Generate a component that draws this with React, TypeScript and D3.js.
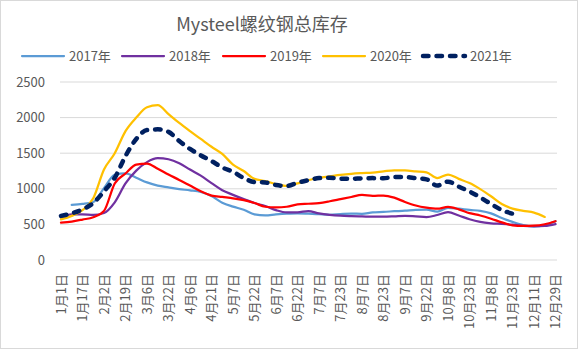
import React from "react";
import * as d3 from "d3";

const xLabels = ["1月1日","1月17日","2月2日","2月19日","3月6日","3月22日","4月6日","4月21日","5月7日","5月22日","6月7日","6月22日","7月7日","7月23日","8月7日","8月23日","9月7日","9月22日","10月8日","10月23日","11月8日","11月23日","12月11日","12月29日"];
const yTicks = [0, 500, 1000, 1500, 2000, 2500];

// values at half-label steps (47 points)
const s2017: (number | null)[] = [null,775,787,815,1010,1195,1215,1155,1090,1045,1020,996,978,955,898,805,750,705,640,627,640,650,655,650,643,635,645,652,648,670,676,685,693,705,708,678,733,720,703,690,655,590,535,490,470,490,545];
const s2018: (number | null)[] = [600,640,642,633,660,810,1075,1255,1375,1430,1415,1360,1270,1185,1080,980,915,855,800,758,700,668,668,688,655,635,623,617,613,608,608,613,620,612,602,632,672,625,572,535,516,507,496,481,477,480,505];
const s2019: (number | null)[] = [525,540,568,600,690,1075,1215,1340,1355,1282,1200,1125,1045,965,905,885,866,840,800,748,738,748,780,790,800,825,855,885,913,900,905,875,815,765,735,720,745,712,658,625,580,528,487,478,482,502,545];
const s2020: (number | null)[] = [570,620,700,866,1270,1500,1810,2000,2145,2175,2050,1925,1810,1700,1590,1490,1340,1250,1140,1110,1065,1040,1075,1120,1155,1175,1195,1210,1220,1228,1245,1260,1258,1245,1231,1150,1200,1140,1080,995,895,786,722,690,665,605,null];
const s2021: (number | null)[] = [620,655,710,800,965,1155,1460,1700,1825,1835,1800,1670,1560,1470,1390,1300,1240,1150,1095,1090,1053,1040,1085,1120,1150,1155,1142,1140,1147,1150,1148,1165,1165,1150,1133,1045,1100,1030,962,880,786,702,650,null,null,null,null];

const seriesNames = ["2017年", "2018年", "2019年", "2020年", "2021年"];
const seriesData = [s2017, s2018, s2019, s2020, s2021];
const colors = ["#5B9BD5", "#7030A0", "#FF0000", "#FFC000", "#002060"];

const W = 579, H = 351;
const FONT = "'Noto Sans CJK SC', 'Noto Sans', sans-serif";
const TXT = "#595959";

export default function App() {
  const x = d3.scaleLinear().domain([0, 46]).range([61, 555.5]);
  const y = d3.scaleLinear().domain([0, 2500]).range([260, 82]);
  const line = d3
    .line<number | null>()
    .defined((d) => d != null)
    .x((_, i) => x(i))
    .y((d) => y(d as number))
    .curve(d3.curveMonotoneX);

  const legendX = [22, 122, 223, 323, 423];

  return (
    <svg width={W} height={H} style={{ position: "absolute", left: 0, top: 0, background: "#fff" }} fontFamily={FONT}>
      <rect x={0.5} y={0.5} width={W - 2} height={H - 3} fill="#fff" stroke="#d9d9d9" />
      <text x={262} y={31} textAnchor="middle" fontSize={18} fill={TXT}>Mysteel螺纹钢总库存</text>
      {seriesNames.map((n, i) => (
        <g key={n}>
          <line
            x1={legendX[i]} x2={legendX[i] + 42} y1={56} y2={56}
            stroke={colors[i]} strokeWidth={i === 4 ? 4.5 : 2.25}
            strokeDasharray={i === 4 ? "5.5 8" : undefined}
            strokeLinecap="round"
          />
          <text x={legendX[i] + 47} y={56} dy="0.35em" fontSize={13} fill={TXT}>{n}</text>
        </g>
      ))}
      {yTicks.map((t) => (
        <g key={t}>
          <line x1={60} x2={557} y1={y(t)} y2={y(t)} stroke="#d9d9d9" strokeWidth={1} />
          <text x={45} y={y(t)} dy="0.35em" textAnchor="end" fontSize={13} fill={TXT}>{t}</text>
        </g>
      ))}
      {xLabels.map((l, i) => (
        <text key={l} transform={`translate(${x(i * 2)},274) rotate(-90)`} textAnchor="end" dy="0.35em" fontSize={13} fill={TXT}>{l}</text>
      ))}
      {seriesData.map((s, i) => (
        <path
          key={i}
          d={line(s) || ""}
          fill="none"
          stroke={colors[i]}
          strokeWidth={i === 4 ? 4.5 : 2.25}
          strokeDasharray={i === 4 ? "5.5 8" : undefined}
          strokeLinecap="round"
          strokeLinejoin="round"
        />
      ))}
    </svg>
  );
}
